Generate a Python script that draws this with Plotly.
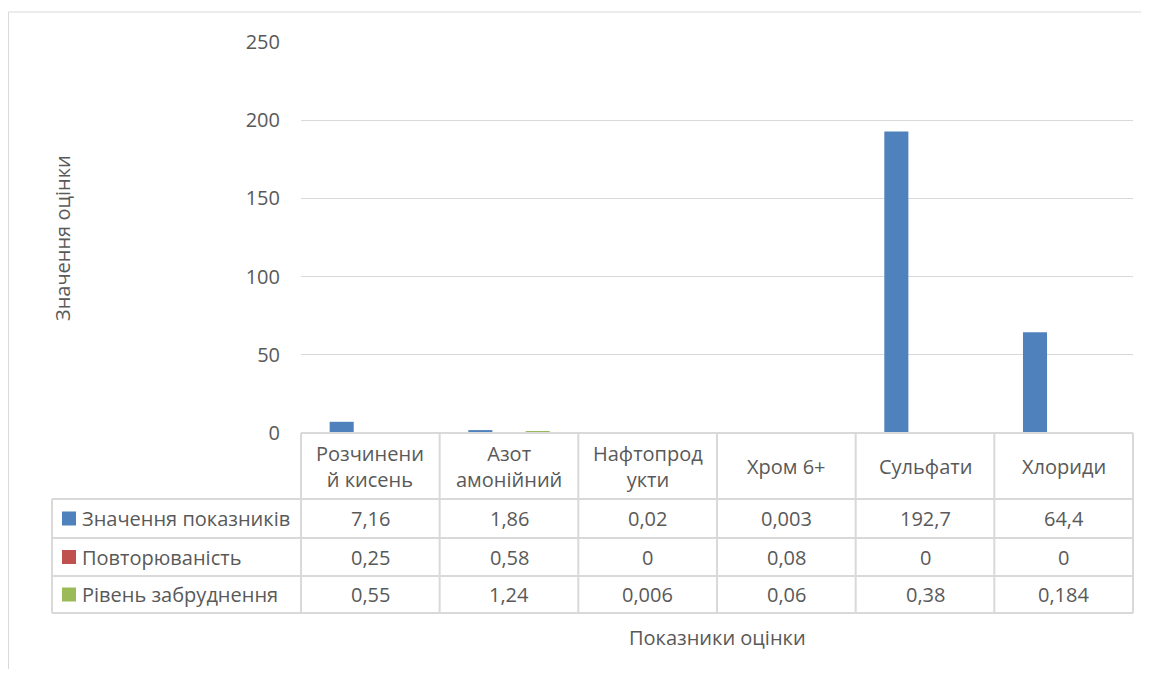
import plotly.graph_objects as go

categories = ["Розчинений кисень", "Азот амонійний", "Нафтопродукти", "Хром 6+", "Сульфати", "Хлориди"]
header_labels = ["Розчинени<br>й кисень", "Азот<br>амонійний", "Нафтопрод<br>укти", "Хром 6+", "Сульфати", "Хлориди"]
series_names = ["Значення показників", "Повторюваність", "Рівень забруднення"]
values_main = [7.16, 1.86, 0.02, 0.003, 192.7, 64.4]
values_repeat = [0.25, 0.58, 0, 0.08, 0, 0]
values_level = [0.55, 1.24, 0.006, 0.06, 0.38, 0.184]
value_text_main = ["7,16", "1,86", "0,02", "0,003", "192,7", "64,4"]
value_text_repeat = ["0,25", "0,58", "0", "0,08", "0", "0"]
value_text_level = ["0,55", "1,24", "0,006", "0,06", "0,38", "0,184"]
colors = ["#4f81bd", "#c0504d", "#9bbb59"]
y_ticks = [0, 50, 100, 150, 200, 250]

# page has an 8px body margin; figure is sized/shifted accordingly
OFF = 8
W, H = 1149 - OFF, 677 - 2 * OFF
L, R, T, B = 301, 1133, 42, 433  # page coordinates of plot area
FONT = "Open Sans"
TXT = "#595959"
GRID = "#d9d9d9"
FS = 20


def px(x):
    return (x - L) / (R - L)


def py(y):
    return (B - y) / (B - T)


fig = go.Figure()
all_vals = [values_main, values_repeat, values_level]
for name, vals, c in zip(series_names, all_vals, colors):
    fig.add_trace(go.Bar(x=categories, y=vals, name=name, marker=dict(color=c, line=dict(width=0))))

shapes = []
ann = []

# outer chart border (left and top)
shapes.append(dict(type="line", xref="paper", yref="paper", x0=px(8.5), x1=px(1149), y0=py(12), y1=py(12),
                   line=dict(color=GRID, width=1)))
shapes.append(dict(type="line", xref="paper", yref="paper", x0=px(8.5), x1=px(8.5), y0=py(12), y1=py(677),
                   line=dict(color=GRID, width=1)))

# data table grid
row_lines = [433, 499, 538, 576, 613]
legend_left = 52
for i, yy in enumerate(row_lines):
    x0 = L if i == 0 else legend_left
    shapes.append(dict(type="line", xref="paper", yref="paper", x0=px(x0), x1=px(R), y0=py(yy), y1=py(yy),
                       line=dict(color=GRID, width=2)))
n = len(categories)
for k in range(n + 1):
    xx = L + (R - L) * k / n
    shapes.append(dict(type="line", xref="paper", yref="paper", x0=px(xx), x1=px(xx), y0=py(433), y1=py(613),
                       line=dict(color=GRID, width=2)))
shapes.append(dict(type="line", xref="paper", yref="paper", x0=px(legend_left), x1=px(legend_left),
                   y0=py(499), y1=py(613), line=dict(color=GRID, width=2)))

# header labels
for cat, lab in zip(categories, header_labels):
    ann.append(dict(x=cat, xref="x", y=py(466), yref="paper", text=lab, showarrow=False,
                    font=dict(family=FONT, size=FS, color=TXT), xanchor="center", yanchor="middle"))

row_centers = [518.5, 557, 594.5]
texts = [value_text_main, value_text_repeat, value_text_level]
for r, (name, tv, c) in enumerate(zip(series_names, texts, colors)):
    yc = row_centers[r]
    shapes.append(dict(type="rect", xref="paper", yref="paper", x0=px(62), x1=px(76), y0=py(yc - 7), y1=py(yc + 7),
                       fillcolor=c, line=dict(width=0)))
    ann.append(dict(x=px(80), xref="paper", y=py(yc), yref="paper", text=name, showarrow=False,
                    font=dict(family=FONT, size=FS, color=TXT), xanchor="left", yanchor="middle"))
    for cat, t in zip(categories, tv):
        ann.append(dict(x=cat, xref="x", y=py(yc), yref="paper", text=t, showarrow=False,
                        font=dict(family=FONT, size=FS, color=TXT), xanchor="center", yanchor="middle"))

# axis titles
ann.append(dict(x=px(62), xref="paper", y=py(238), yref="paper", text="Значення оцінки", textangle=-90,
                showarrow=False, font=dict(family=FONT, size=FS, color=TXT), xanchor="center", yanchor="middle"))
ann.append(dict(x=px(717), xref="paper", y=py(637), yref="paper", text="Показники оцінки",
                showarrow=False, font=dict(family=FONT, size=FS, color=TXT), xanchor="center", yanchor="middle"))

fig.update_layout(
    width=W, height=H,
    margin=dict(l=L - OFF, r=W - (R - OFF), t=T - OFF, b=H - (B - OFF), pad=0),
    paper_bgcolor="white", plot_bgcolor="white",
    barmode="group", bargap=0.38, bargroupgap=0.16,
    showlegend=False,
    shapes=shapes, annotations=ann,
    xaxis=dict(showticklabels=False, showgrid=False, zeroline=False, showline=False, ticks=""),
    yaxis=dict(range=[0, 250], tickvals=y_ticks, showgrid=True, gridcolor=GRID, gridwidth=1,
               zeroline=False, showline=False, ticks="", ticklabelstandoff=20,
               tickfont=dict(family=FONT, size=FS, color=TXT)),
    font=dict(family=FONT, color=TXT),
)

fig.write_html("out.html")
